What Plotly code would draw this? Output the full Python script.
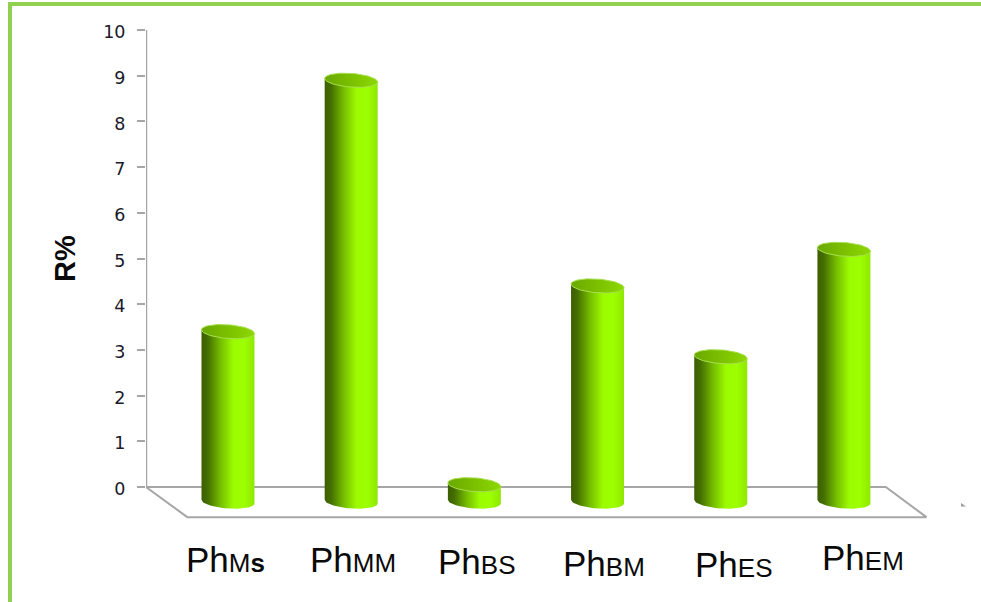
import numpy as np
import plotly.graph_objects as go

# Reaction yield per sample
categories = ["M<b>s</b>", "MM", "BS", "BM", "ES", "EM"]
r_percent = [3.4, 8.9, 0.05, 4.4, 2.85, 5.2]
y_ticks = list(range(0, 11))
# Hand placement of each category label, in pixels
label_drop = [0, 0, 2, 4, 5, -2]
label_shift = [-2, 2, 3, 6, 13, 19]

BASE = -0.32       # cylinder foot, in front of the back wall
FLOOR = -0.66      # front edge of the floor plane
RX = 0.215         # cylinder half-width in category units
RY = 0.15          # cylinder cap half-height in axis units
TILT = 0.04

BODY_SCALE = [[0, "#3a5f00"], [0.12, "#456f00"], [0.35, "#74bb00"],
              [0.6, "#9cfb00"], [0.8, "#9dff00"], [1, "#8fe800"]]
CAP_SCALE = [[0, "#6aa800"], [0.5, "#7cc000"], [1, "#8cd800"]]
GREY = "#a6a6a6"
FRAME = "#92d050"

# Plot rectangle inside the 981x602 page, in pixels
PLOT_L, PLOT_R, PLOT_T, PLOT_B = 146, 940, 30, 519
AXIS_LEFT = (PLOT_L - 228) / 123.2


def paper_x(px):
    return (px - PLOT_L) / (PLOT_R - PLOT_L)


def paper_y(py):
    return (PLOT_B - py) / (PLOT_B - PLOT_T)


fig = go.Figure()

# Floor plane and back-wall axis
fig.add_trace(go.Scatter(
    x=[AXIS_LEFT, 5.34, 5.67, -0.33, AXIS_LEFT],
    y=[0, 0, FLOOR, FLOOR, 0],
    mode="lines", line=dict(color=GREY, width=2),
    hoverinfo="skip", showlegend=False))
fig.add_trace(go.Scatter(
    x=[AXIS_LEFT, AXIS_LEFT], y=[0, 10],
    mode="lines", line=dict(color=GREY, width=2.5),
    hoverinfo="skip", showlegend=False, cliponaxis=False))

theta = np.linspace(0, np.pi, 40)
full = np.linspace(0, 2 * np.pi, 80)
for i, value in enumerate(r_percent):
    # Outline of the visible side: top rim across, then front foot arc
    top_x = i - RX * np.cos(theta)
    top_y = value + TILT * np.cos(theta)
    foot_x = i + RX * np.cos(theta)
    foot_y = BASE - RY * np.sin(theta) - TILT * np.cos(theta)
    fig.add_trace(go.Scatter(
        x=np.concatenate([top_x, foot_x, top_x[:1]]),
        y=np.concatenate([top_y, foot_y, top_y[:1]]),
        mode="lines", line=dict(width=0), fill="toself",
        fillgradient=dict(type="horizontal", colorscale=BODY_SCALE),
        hoverinfo="skip", showlegend=False))
    # Elliptical top cap
    fig.add_trace(go.Scatter(
        x=i - RX * np.cos(full),
        y=value + RY * np.sin(full) + TILT * np.cos(full),
        mode="lines", line=dict(width=1, color="#a8e050"), fill="toself",
        fillgradient=dict(type="horizontal", colorscale=CAP_SCALE),
        hoverinfo="skip", showlegend=False))

annotations = [
    dict(x=i, xref="x", xshift=dx, y=0, yref="paper", yanchor="top", yshift=-19 - drop,
         text=f"Ph<span style='font-size:26px'>{c}</span>",
         showarrow=False, font=dict(family="Liberation Sans", size=35, color="#0a0a0a"))
    for i, (c, drop, dx) in enumerate(zip(categories, label_drop, label_shift))
]
annotations.append(dict(
    x=paper_x(65), xref="paper", xanchor="center",
    y=paper_y(259), yref="paper", yanchor="middle",
    text="<b>R%</b>", textangle=-90, showarrow=False,
    font=dict(family="Liberation Sans", size=29, color="#0a0a0a")))

fig.update_layout(
    width=981, height=602, autosize=False,
    margin=dict(l=PLOT_L, r=981 - PLOT_R, t=PLOT_T, b=602 - PLOT_B),
    paper_bgcolor="white", plot_bgcolor="white",
    showlegend=False,
    xaxis=dict(range=[AXIS_LEFT, 5.78], visible=False, fixedrange=True),
    yaxis=dict(range=[-0.7, 10], tickvals=y_ticks, ticktext=[str(t) for t in y_ticks],
               ticks="outside", ticklen=8, tickwidth=1.5, tickcolor=GREY,
               ticklabelstandoff=8, ticklabelshift=2,
               showgrid=False, zeroline=False, showline=False, fixedrange=True,
               tickfont=dict(family="DejaVu Sans", size=17.5, color="#1a1a2a")),
    annotations=annotations,
    shapes=[
        # Green frame along the top and left edges
        dict(type="line", xref="paper", yref="paper",
             x0=paper_x(8), x1=paper_x(981), y0=paper_y(4), y1=paper_y(4),
             line=dict(color=FRAME, width=4)),
        dict(type="line", xref="paper", yref="paper",
             x0=paper_x(10), x1=paper_x(10), y0=paper_y(602), y1=paper_y(2),
             line=dict(color=FRAME, width=4)),
        # Small grey tick mark to the right of the floor
        dict(type="path", xref="paper", yref="paper",
             path=(f"M {paper_x(961)} {paper_y(503)} L {paper_x(966)} {paper_y(506.5)} "
                   f"L {paper_x(961)} {paper_y(506.5)} Z"),
             fillcolor="#9a9a9a", line=dict(width=0)),
    ],
)

fig.write_html("out.html", config=dict(displayModeBar=False))
